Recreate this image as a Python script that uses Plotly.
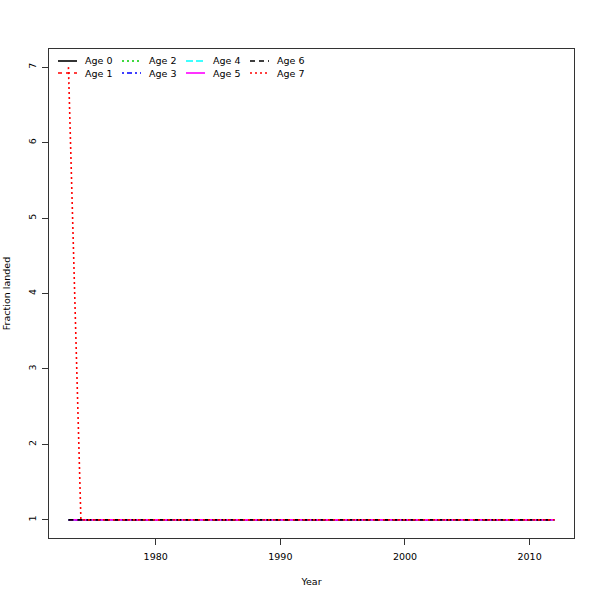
import plotly.graph_objects as go

years = [1973, 1974, 1975, 1976, 1977, 1978, 1979, 1980, 1981, 1982,
         1983, 1984, 1985, 1986, 1987, 1988, 1989, 1990, 1991, 1992,
         1993, 1994, 1995, 1996, 1997, 1998, 1999, 2000, 2001, 2002,
         2003, 2004, 2005, 2006, 2007, 2008, 2009, 2010, 2011, 2012]

age0 = [1, 1, 1, 1, 1, 1, 1, 1, 1, 1, 1, 1, 1, 1, 1, 1, 1, 1, 1, 1,
        1, 1, 1, 1, 1, 1, 1, 1, 1, 1, 1, 1, 1, 1, 1, 1, 1, 1, 1, 1]
age1 = [1, 1, 1, 1, 1, 1, 1, 1, 1, 1, 1, 1, 1, 1, 1, 1, 1, 1, 1, 1,
        1, 1, 1, 1, 1, 1, 1, 1, 1, 1, 1, 1, 1, 1, 1, 1, 1, 1, 1, 1]
age2 = [1, 1, 1, 1, 1, 1, 1, 1, 1, 1, 1, 1, 1, 1, 1, 1, 1, 1, 1, 1,
        1, 1, 1, 1, 1, 1, 1, 1, 1, 1, 1, 1, 1, 1, 1, 1, 1, 1, 1, 1]
age3 = [1, 1, 1, 1, 1, 1, 1, 1, 1, 1, 1, 1, 1, 1, 1, 1, 1, 1, 1, 1,
        1, 1, 1, 1, 1, 1, 1, 1, 1, 1, 1, 1, 1, 1, 1, 1, 1, 1, 1, 1]
age4 = [1, 1, 1, 1, 1, 1, 1, 1, 1, 1, 1, 1, 1, 1, 1, 1, 1, 1, 1, 1,
        1, 1, 1, 1, 1, 1, 1, 1, 1, 1, 1, 1, 1, 1, 1, 1, 1, 1, 1, 1]
age5 = [1, 1, 1, 1, 1, 1, 1, 1, 1, 1, 1, 1, 1, 1, 1, 1, 1, 1, 1, 1,
        1, 1, 1, 1, 1, 1, 1, 1, 1, 1, 1, 1, 1, 1, 1, 1, 1, 1, 1, 1]
age6 = [1, 1, 1, 1, 1, 1, 1, 1, 1, 1, 1, 1, 1, 1, 1, 1, 1, 1, 1, 1,
        1, 1, 1, 1, 1, 1, 1, 1, 1, 1, 1, 1, 1, 1, 1, 1, 1, 1, 1, 1]
age7 = [7, 1, 1, 1, 1, 1, 1, 1, 1, 1, 1, 1, 1, 1, 1, 1, 1, 1, 1, 1,
        1, 1, 1, 1, 1, 1, 1, 1, 1, 1, 1, 1, 1, 1, 1, 1, 1, 1, 1, 1]

series_names = ["Age 0", "Age 1", "Age 2", "Age 3", "Age 4", "Age 5", "Age 6", "Age 7"]
series_values = [age0, age1, age2, age3, age4, age5, age6, age7]

x_ticks = [1980, 1990, 2000, 2010]
y_ticks = [1, 2, 3, 4, 5, 6, 7]

colors = ["black", "#FF0000", "#00CD00", "#0000FF", "#00FFFF", "#FF00FF", "black", "#FF0000"]
dashes = ["solid", "4px,4px", "2px,3px", "2px,3px,5px,3px", "7px,3px", "solid", "5px,4px", "2px,3px"]

FONT = "DejaVu Sans"
FS = 9.5
LW = 1.6

# plot area in pixels (for legend placement in paper coordinates)
PL, PR, PT, PB = 49, 574, 49, 538
PW, PH = PR - PL, PB - PT


def px_x(p):
    return (p - PL) / PW


def px_y(p):
    return (PB - p) / PH


fig = go.Figure()
for name, vals, c, d in zip(series_names, series_values, colors, dashes):
    fig.add_trace(go.Scatter(
        x=years, y=vals, mode="lines", name=name,
        line=dict(color=c, dash=d, width=LW),
        showlegend=False,
    ))

# legend: 4 columns x 2 rows, filled column-wise (as in R's legend with ncol=4)
shapes = []
annotations = []
for i, (name, c, d) in enumerate(zip(series_names, colors, dashes)):
    col, row = i // 2, i % 2
    x0 = 58 + 64 * col
    y = 61 + 12 * row
    shapes.append(dict(
        type="line", xref="paper", yref="paper",
        x0=px_x(x0), x1=px_x(x0 + 19), y0=px_y(y), y1=px_y(y),
        line=dict(color=c, dash=d, width=LW),
    ))
    annotations.append(dict(
        xref="paper", yref="paper", x=px_x(x0 + 25), y=px_y(y),
        xanchor="left", yanchor="middle", showarrow=False, text=name,
        font=dict(family=FONT, size=FS, color="black"),
    ))

fig.update_layout(
    width=600, height=600,
    margin=dict(l=PL, r=600 - PR, t=PT, b=600 - PB, autoexpand=False),
    paper_bgcolor="white", plot_bgcolor="white",
    font=dict(family=FONT, size=FS, color="black"),
    showlegend=False,
    shapes=shapes,
    annotations=annotations,
    xaxis=dict(
        range=[1971.44, 2013.56], tickvals=x_ticks, ticks="outside", ticklen=6,
        tickcolor="#333", showline=True, linecolor="#333", linewidth=1, mirror=True,
        showgrid=False, zeroline=False, ticklabelstandoff=4, automargin=False,
        title=dict(text="Year", standoff=16, font=dict(size=FS)),
    ),
    yaxis=dict(
        range=[0.76, 7.24], tickvals=y_ticks, ticks="outside", ticklen=6,
        tickcolor="#333", showline=True, linecolor="#333", linewidth=1, mirror=True,
        showgrid=False, zeroline=False, tickangle=-90, ticklabelstandoff=2,
        automargin=False,
        title=dict(text="Fraction landed", standoff=14, font=dict(size=FS)),
    ),
)

fig.write_html("out.html", config={"displayModeBar": False},
               post_script="document.body.style.margin='0px';")
